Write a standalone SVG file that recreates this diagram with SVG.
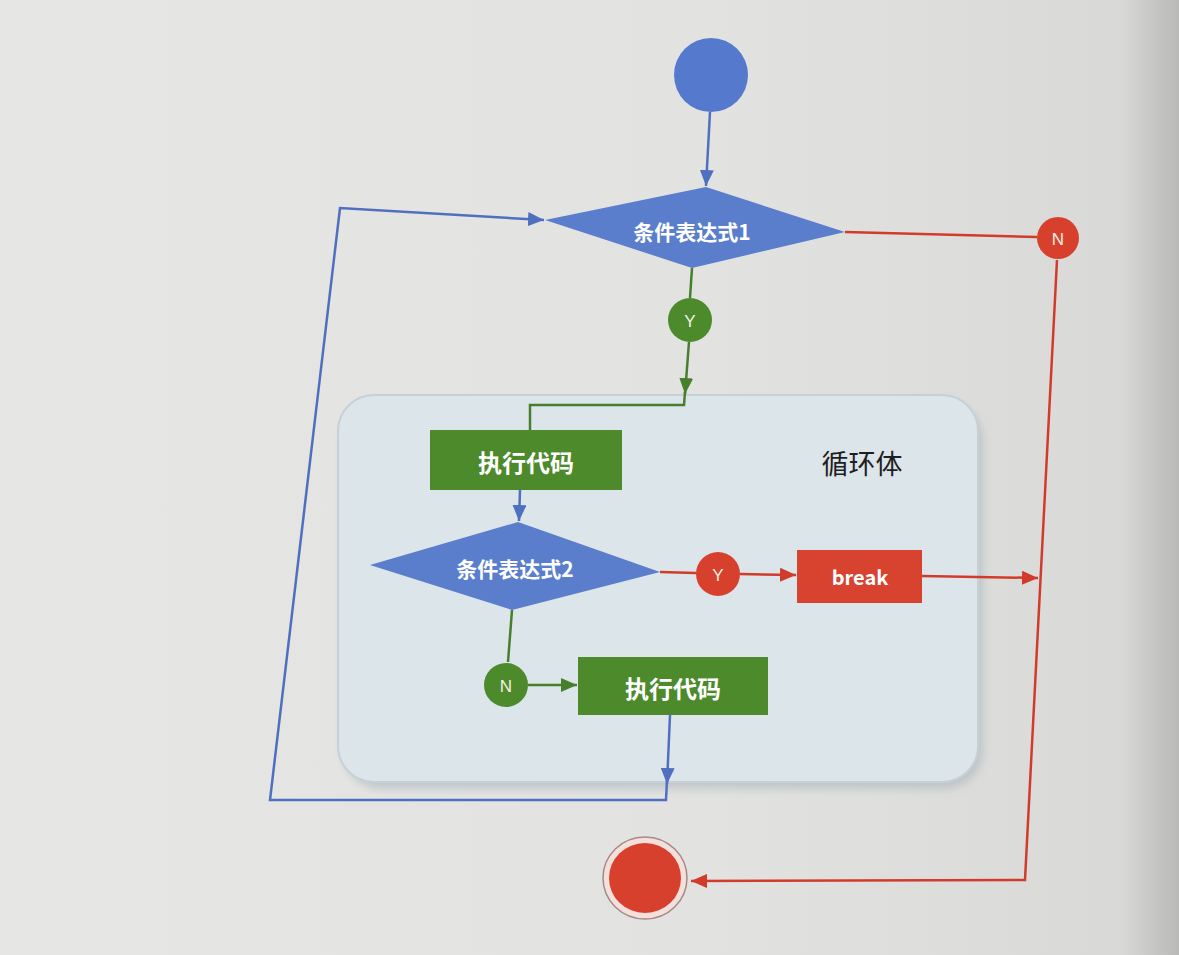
<svg xmlns="http://www.w3.org/2000/svg" width="1179" height="955" viewBox="0 0 1179 955">
<defs>
<linearGradient id="bg" x1="0" y1="0" x2="1" y2="0">
<stop offset="0" stop-color="#e6e6e4"/>
<stop offset="0.6" stop-color="#e2e3e1"/>
<stop offset="0.95" stop-color="#d9dad8"/>
<stop offset="1" stop-color="#b9bab8"/>
</linearGradient>
<filter id="blur" x="-10%" y="-10%" width="120%" height="120%"><feGaussianBlur stdDeviation="5"/></filter>
<marker id="aB" viewBox="0 0 16 14" refX="16" refY="7" markerWidth="16" markerHeight="14" markerUnits="userSpaceOnUse" orient="auto"><path d="M0,0 L16,7 L0,14 Z" fill="#4f6fbf"/></marker>
<marker id="aG" viewBox="0 0 16 14" refX="16" refY="7" markerWidth="16" markerHeight="14" markerUnits="userSpaceOnUse" orient="auto"><path d="M0,0 L16,7 L0,14 Z" fill="#477f2e"/></marker>
<marker id="aR" viewBox="0 0 16 14" refX="16" refY="7" markerWidth="16" markerHeight="14" markerUnits="userSpaceOnUse" orient="auto"><path d="M0,0 L16,7 L0,14 Z" fill="#d23b2b"/></marker>
<style>
.lb{fill:none;stroke:#4f6fbf;stroke-width:2.5}
.lg{fill:none;stroke:#477f2e;stroke-width:2.5}
.lr{fill:none;stroke:#d23b2b;stroke-width:2.5}
.dia{fill:#5a7ecc}
.gbox{fill:#4c8a2c}
.rbox{fill:#d8432f}
.gc{fill:#4c8a2c}
.rc{fill:#d8402e}
.wt{fill:#ffffff;font-family:"Noto Sans CJK SC","Noto Sans",sans-serif;font-weight:bold;text-anchor:middle;dominant-baseline:central}
.lt{fill:#f4f0e0;font-family:"Liberation Sans","Noto Sans",sans-serif;text-anchor:middle;dominant-baseline:central;font-size:17px}
</style>
</defs>
<rect x="0" y="0" width="1179" height="955" fill="url(#bg)"/>

<g id="loop-body">
<rect x="343" y="402" width="640" height="387" rx="38" fill="#a9b3ba" opacity="0.6" filter="url(#blur)"/>
<rect x="338" y="395" width="640" height="387" rx="36" fill="#dce5e9" stroke="#c6d0d6" stroke-width="2"/>
<text x="862" y="462" font-family="'Noto Sans CJK SC',sans-serif" font-size="27" fill="#1e1e1e" text-anchor="middle" dominant-baseline="central">循环体</text>
</g>

<g id="connectors">
<path class="lb" d="M710 112 L706 186" marker-end="url(#aB)"/>
<path class="lr" d="M845 232 L1037 237"/>
<path class="lr" d="M1057 260 L1025 880 L691 881" marker-end="url(#aR)"/>
<path class="lg" d="M692 268 L690 298"/>
<path class="lg" d="M689 342 L685 394" marker-end="url(#aG)"/>
<path class="lg" d="M685 392 L684 405 L530 405 L530 430"/>
<path class="lb" d="M520 490 L519 521" marker-end="url(#aB)"/>
<path class="lr" d="M660 572 L696 573"/>
<path class="lr" d="M740 574 L796 575" marker-end="url(#aR)"/>
<path class="lr" d="M922 576 L1038 578" marker-end="url(#aR)"/>
<path class="lg" d="M512 610 L508 662"/>
<path class="lg" d="M528 685 L577 685" marker-end="url(#aG)"/>
<path class="lb" d="M670 715 L667 784" marker-end="url(#aB)"/>
<path class="lb" d="M667 780 L666 800 L270 800 L340 208 L544 220" marker-end="url(#aB)"/>
</g>

<g id="start">
<circle cx="711" cy="75" r="37" fill="#5579cc"/>
</g>

<g id="cond1">
<polygon class="dia" points="545,220 706,187 845,232 692,268"/>
<text class="wt" x="692" y="231" font-size="21">条件表达式1</text>
</g>

<g id="n1">
<circle class="rc" cx="1058" cy="238" r="21"/>
<text class="lt" x="1058" y="239">N</text>
</g>

<g id="y1">
<circle class="gc" cx="690" cy="320" r="22"/>
<text class="lt" x="690" y="321">Y</text>
</g>

<g id="exec1">
<rect class="gbox" x="430" y="430" width="192" height="60"/>
<text class="wt" x="526" y="461" font-size="24">执行代码</text>
</g>

<g id="cond2">
<polygon class="dia" points="370,565 518,522 660,572 512,610"/>
<text class="wt" x="515" y="568" font-size="21">条件表达式2</text>
</g>

<g id="y2">
<circle class="rc" cx="718" cy="574" r="22"/>
<text class="lt" x="718" y="575">Y</text>
</g>

<g id="break">
<rect class="rbox" x="797" y="550" width="125" height="53"/>
<text class="wt" x="860" y="576" font-size="20" font-family="'Liberation Sans',sans-serif">break</text>
</g>

<g id="n2">
<circle class="gc" cx="506" cy="685" r="22"/>
<text class="lt" x="506" y="686">N</text>
</g>

<g id="exec2">
<rect class="gbox" x="578" y="657" width="190" height="58"/>
<text class="wt" x="673" y="687" font-size="24">执行代码</text>
</g>

<g id="end">
<ellipse cx="645" cy="878" rx="42" ry="41" fill="#f3e0dc" stroke="#a58a86" stroke-width="1.5"/>
<ellipse cx="645" cy="878" rx="36" ry="35" fill="#d8402e"/>
</g>
</svg>
